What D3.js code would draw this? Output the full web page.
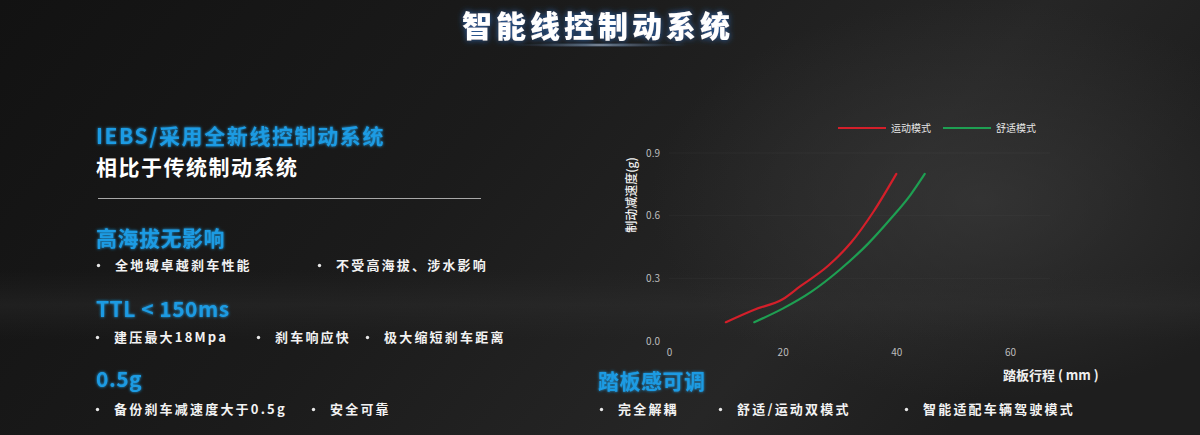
<!DOCTYPE html>
<html>
<head>
<meta charset="utf-8">
<script src="https://cdn.jsdelivr.net/npm/d3@7"></script>
<style>
  html, body { margin: 0; padding: 0; background: #161616; }
  svg { display: block; }
  text { font-family: "Noto Sans CJK SC", "Noto Sans", sans-serif; }
</style>
</head>
<body>
<div id="chart"></div>
<script>
// chart data
const travelTicks = [0, 20, 40, 60];
const decelTicks = [0.0, 0.3, 0.6, 0.9];
const seriesNames = ["运动模式", "舒适模式"];
const seriesColors = ["#d41f2a", "#1e9f52"];
const sportMode = [[10, 0.09], [15, 0.15], [20, 0.2], [23, 0.26], [28, 0.36], [32, 0.47], [36, 0.62], [40, 0.8]];
const comfortMode = [[15, 0.09], [20, 0.155], [25, 0.235], [30, 0.34], [35, 0.465], [39, 0.585], [42.5, 0.7], [45, 0.8]];

// left text blocks
const bulletRows = [
  {y: 270, items: [[97, "全地域卓越刹车性能"], [318, "不受高海拔、涉水影响"]]},
  {y: 342, items: [[96, "建压最大18Mpa"], [257, "刹车响应快"], [366, "极大缩短刹车距离"]]},
  {y: 414, items: [[96, "备份刹车减速度大于0.5g"], [312, "安全可靠"]]},
  {y: 414, items: [[600, "完全解耦"], [719, "舒适/运动双模式"], [905, "智能适配车辆驾驶模式"]]}
];
const headings = [
  {x: 96, y: 246, text: "高海拔无影响"},
  {x: 96, y: 317, text: "TTL < 150ms"},
  {x: 96, y: 387, text: "0.5g"},
  {x: 598, y: 389, text: "踏板感可调"}
];

const W = 1200, H = 435;
const svg = d3.select("#chart").append("svg")
  .attr("width", W)
  .attr("height", H);

const defs = svg.append("defs");

// background shading
const bgGrad = defs.append("linearGradient")
  .attr("id", "bg")
  .attr("x1", "0").attr("y1", "0").attr("x2", "1").attr("y2", "0.3");
bgGrad.append("stop").attr("offset", "0%").attr("stop-color", "#121212");
bgGrad.append("stop").attr("offset", "45%").attr("stop-color", "#1b1b1b");
bgGrad.append("stop").attr("offset", "80%").attr("stop-color", "#262626");
bgGrad.append("stop").attr("offset", "100%").attr("stop-color", "#1e1e1e");

const glow = defs.append("radialGradient")
  .attr("id", "glowR")
  .attr("cx", "0.5").attr("cy", "0.5").attr("r", "0.5");
glow.append("stop").attr("offset", "0%").attr("stop-color", "#3a3a3a").attr("stop-opacity", 0.7);
glow.append("stop").attr("offset", "100%").attr("stop-color", "#3a3a3a").attr("stop-opacity", 0);

const band = defs.append("linearGradient")
  .attr("id", "band")
  .attr("x1", "0").attr("y1", "0").attr("x2", "0").attr("y2", "1");
band.append("stop").attr("offset", "0%").attr("stop-color", "#2e2e2e").attr("stop-opacity", 0);
band.append("stop").attr("offset", "50%").attr("stop-color", "#333").attr("stop-opacity", 0.55);
band.append("stop").attr("offset", "100%").attr("stop-color", "#2e2e2e").attr("stop-opacity", 0);

const streak = defs.append("radialGradient")
  .attr("id", "streak")
  .attr("cx", "0.5").attr("cy", "0.5").attr("r", "0.5");
streak.append("stop").attr("offset", "0%").attr("stop-color", "#ffffff").attr("stop-opacity", 0.95);
streak.append("stop").attr("offset", "25%").attr("stop-color", "#9fb8d8").attr("stop-opacity", 0.5);
streak.append("stop").attr("offset", "100%").attr("stop-color", "#3b5b88").attr("stop-opacity", 0);

const titleGlow = defs.append("filter").attr("id", "tglow")
  .attr("x", "-20%").attr("y", "-50%").attr("width", "140%").attr("height", "200%");
titleGlow.append("feGaussianBlur").attr("in", "SourceAlpha").attr("stdDeviation", 3).attr("result", "b");
titleGlow.append("feFlood").attr("flood-color", "#2f6fc0").attr("flood-opacity", 0.9);
titleGlow.append("feComposite").attr("in2", "b").attr("operator", "in").attr("result", "g");
const merge = titleGlow.append("feMerge");
merge.append("feMergeNode").attr("in", "g");
merge.append("feMergeNode").attr("in", "SourceGraphic");

const blueGlow = defs.append("filter").attr("id", "bglow")
  .attr("x", "-10%").attr("y", "-40%").attr("width", "120%").attr("height", "180%");
blueGlow.append("feGaussianBlur").attr("in", "SourceGraphic").attr("stdDeviation", 1.5).attr("result", "b");
const merge2 = blueGlow.append("feMerge");
merge2.append("feMergeNode").attr("in", "b");
merge2.append("feMergeNode").attr("in", "SourceGraphic");

svg.append("rect").attr("width", W).attr("height", H).attr("fill", "url(#bg)");
svg.append("ellipse")
  .attr("cx", 980).attr("cy", 200).attr("rx", 330).attr("ry", 200)
  .attr("fill", "url(#glowR)");
svg.append("rect")
  .attr("x", 0).attr("y", 270).attr("width", W).attr("height", 70)
  .attr("fill", "url(#band)").attr("opacity", 0.6);

// title
svg.append("ellipse")
  .attr("cx", 600).attr("cy", 45).attr("rx", 90).attr("ry", 2.5)
  .attr("fill", "url(#streak)");
svg.append("text")
  .attr("x", 598).attr("y", 37)
  .attr("text-anchor", "middle")
  .attr("fill", "#ffffff")
  .attr("font-size", 30)
  .attr("font-weight", 900)
  .attr("letter-spacing", 4)
  .attr("filter", "url(#tglow)")
  .text("智能线控制动系统");

// left column intro
svg.append("text")
  .attr("x", 96).attr("y", 144)
  .attr("fill", "#1d9be3")
  .attr("font-size", 21)
  .attr("font-weight", 700)
  .attr("letter-spacing", 1.6)
  .attr("filter", "url(#bglow)")
  .text("IEBS/采用全新线控制动系统");

svg.append("text")
  .attr("x", 96).attr("y", 175)
  .attr("fill", "#ffffff")
  .attr("font-size", 21)
  .attr("font-weight", 700)
  .attr("letter-spacing", 1.5)
  .text("相比于传统制动系统");

svg.append("line")
  .attr("x1", 98).attr("x2", 481)
  .attr("y1", 198.5).attr("y2", 198.5)
  .attr("stroke", "#a8a8a8").attr("stroke-width", 1);

svg.selectAll("text.heading")
  .data(headings)
  .enter()
  .append("text")
  .attr("class", "heading")
  .attr("x", d => d.x).attr("y", d => d.y)
  .attr("fill", "#1d9be3")
  .attr("font-size", 21)
  .attr("font-weight", 700)
  .attr("letter-spacing", 0.5)
  .attr("filter", "url(#bglow)")
  .text(d => d.text);

const bulletItems = bulletRows.flatMap(r => r.items.map(it => ({x: it[0], y: r.y, text: it[1]})));
const bullets = svg.selectAll("g.bullet")
  .data(bulletItems)
  .enter()
  .append("g")
  .attr("class", "bullet")
  .attr("transform", d => `translate(${d.x},${d.y})`);
bullets.append("circle")
  .attr("cx", 1.5).attr("cy", -4.5)
  .attr("r", 1.7)
  .attr("fill", "#e8e8e8");
bullets.append("text")
  .attr("x", 18).attr("y", 0)
  .attr("fill", "#f2f2f2")
  .attr("font-size", 13)
  .attr("font-weight", 700)
  .attr("letter-spacing", 2.2)
  .text(d => d.text);

// chart
const x = d3.scaleLinear().domain([0, 60]).range([669, 1010]);
const y = d3.scaleLinear().domain([0, 0.9]).range([341, 153]);

const chart = svg.append("g");

chart.selectAll("line.grid")
  .data(decelTicks.slice(1))
  .enter()
  .append("line")
  .attr("class", "grid")
  .attr("x1", x(0)).attr("x2", x(60) + 40)
  .attr("y1", d => y(d)).attr("y2", d => y(d))
  .attr("stroke", "#ffffff")
  .attr("stroke-opacity", 0.03);

const yAxis = chart.append("g")
  .attr("transform", `translate(${x(0) - 6},0)`)
  .call(d3.axisLeft(y).tickValues(decelTicks).tickFormat(d3.format(".1f")).tickSize(0));
yAxis.select(".domain").remove();
yAxis.selectAll("text")
  .attr("fill", "#bdbdbd")
  .attr("font-size", 10)
  .attr("font-family", "'Open Sans', sans-serif")
  .attr("dy", "0.32em")
  .attr("x", -3);

const xAxis = chart.append("g")
  .attr("transform", `translate(0,${y(0) + 8})`)
  .call(d3.axisBottom(x).tickValues(travelTicks).tickFormat(d3.format("d")).tickSize(0));
xAxis.select(".domain").remove();
xAxis.selectAll("text")
  .attr("fill", "#bdbdbd")
  .attr("font-size", 10)
  .attr("font-family", "'Open Sans', sans-serif")
  .attr("y", 0)
  .attr("dy", "0.71em");

chart.append("text")
  .attr("x", 1003).attr("y", 380)
  .attr("fill", "#f0f0f0")
  .attr("font-size", 13)
  .attr("font-weight", 700)
  .text("踏板行程 ( mm )");

chart.append("text")
  .attr("transform", `translate(636,${(157 + 233) / 2}) rotate(-90)`)
  .attr("text-anchor", "middle")
  .attr("fill", "#f0f0f0")
  .attr("font-size", 12)
  .attr("font-weight", 500)
  .text("制动减速度(g)");

const line = d3.line()
  .x(d => x(d[0]))
  .y(d => y(d[1]))
  .curve(d3.curveMonotoneX);

chart.selectAll("path.series")
  .data([sportMode, comfortMode])
  .enter()
  .append("path")
  .attr("class", "series")
  .attr("d", line)
  .attr("fill", "none")
  .attr("stroke", (d, i) => seriesColors[i])
  .attr("stroke-width", 2.2)
  .attr("stroke-linecap", "round");

// legend
const legend = chart.selectAll("g.legend")
  .data(seriesNames)
  .enter()
  .append("g")
  .attr("class", "legend")
  .attr("transform", (d, i) => `translate(${838 + i * 105},128)`);
legend.append("line")
  .attr("x1", 0).attr("x2", 48)
  .attr("stroke", (d, i) => seriesColors[i])
  .attr("stroke-width", 2);
legend.append("text")
  .attr("x", 53).attr("y", 0)
  .attr("dy", "0.35em")
  .attr("fill", "#e6e6e6")
  .attr("font-size", 10)
  .text(d => d);
</script>
</body>
</html>
